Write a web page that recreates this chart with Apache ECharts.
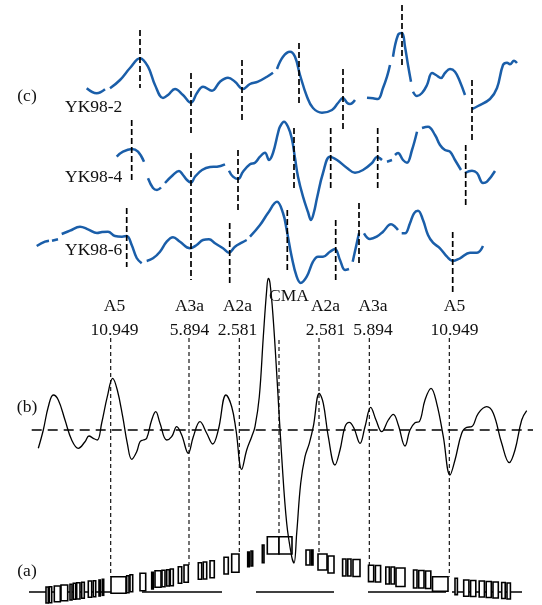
<!DOCTYPE html>
<html><head><meta charset="utf-8">
<script src="https://cdn.jsdelivr.net/npm/echarts@6/dist/echarts.min.js"></script>
<style>html,body{margin:0;padding:0;background:#fff}#c{width:542px;height:605px}</style>
</head><body><div id="c"></div>
<script>
// ---- distance along track (km) and anomaly values, one array of segments per profile ----
const YK98_2 = [
 [[86.7,1.7],[96.7,-3.3],[105,0.7]],
 [[110,1.7],[120,10],[130,22],[140,31.7],[148,23.3],[155,5],[163,-8],[168,-5],[175,1],[183,-5],[191,-12.7],[197,-3],[203,3.3],[212,-0.7],[220,8.3],[228,12.3],[235,8.3],[243,1],[250,6],[258,8.3],[267,13.3],[273,17.3]],
 [[277,21],[283,33.3],[290,38.3],[295,33.3],[300,15],[307,-6.7],[313,-18],[322,-22.7],[332,-20],[338,-13],[343,-8],[347,-12.7],[350,-14],[355,-10]],
 [[367,-7.7],[373,-8.3],[378,-9],[383,2],[387,13.3],[390,25]],
 [[393,33.3],[398,55],[402,57],[405,43.3],[408,25],[411,8.3]],
 [[413,-1.7],[417,-6],[422,-3],[427,5],[432,17],[436,15],[441,12],[445,17],[450,21],[455,18.3],[460,8.3],[465,-5]],
 [[472,-19],[478,-16],[490,-9],[497,2],[503,25],[507,27.3],[510,25.7],[514,29.3],[517,27]]
];
const YK98_4 = [
 [[116.7,13.3],[123,18.3],[131.7,21],[138,18.3],[144,8.3]],
 [[148,-8.3],[153,-18],[157,-20],[161,-17.5]],
 [[165,-13],[173,-5],[179,-1],[183,-5],[187,-10],[191,-12.7],[195,-6.7],[202,0],[210,3],[217,3.3],[225,5.7]],
 [[229,-0.7],[233,-6.7],[238,-9],[243,-1.7],[250,5.7],[255,7.3],[260,13.3],[265,17.3],[269,10],[273,17],[278,37],[280,43.3],[284,48.3],[288,43.3],[291.7,32],[295,12],[298,-6.7],[303,-26.7],[308,-42],[311,-50],[314,-42],[317,-28],[323,-3],[330,13.3],[337,10],[347,2],[355,-2.7],[363,0],[372,7],[377,13],[382,10]],
 [[387,8.3],[392,10]],
 [[395,15],[398,17],[403,10],[407,7.3],[412,20],[417,38.3]],
 [[422,42],[428,43.3],[435,35],[440,25],[445,20],[450,18.3],[455,10],[461,0]],
 [[465,-3],[472,-0.7],[477,-3],[483,-13],[487,-11.7],[495,-1]]
];
const YK98_6 = [
 [[36.7,-1],[45,3.3],[49,4.3]],
 [[52,4.3],[58,5.7]],
 [[61.7,11],[70,14.3],[80,18.3],[88,15.7],[97,12],[102,13],[108,13.3],[115,9],[122,8.3],[126.7,9],[131.7,0],[136.7,-13],[141.7,-18.3]],
 [[146.7,-16],[153,-13.3],[160,-6.7],[166.7,3.3],[173,7.7],[180,3.3],[190,-3.3],[196.7,0],[203,5],[209,5.7],[215,1.7],[223,-3.3],[229,-7.7],[235,-1.7],[241.7,2.3],[246.7,5]],
 [[250,8.3],[260,20],[268,32],[277,43.3],[283,32],[286.7,15],[291.7,-11.7],[296.7,-31.7],[300.7,-38],[306.7,-31.7],[313,-16.7],[318,-11.7],[323,-11.7],[330,-6.7],[335,-4],[340,-15],[345,-25],[349,-24]],
 [[352.7,-16.7],[356,-1.7],[359,11.7]],
 [[364,11.7],[370,6],[376.7,8.3],[383,13.3],[391,20.7],[395,18.3],[398,15]],
 [[401.7,11.7],[405,11.7],[410,21.7],[414,31.7],[418,34.3],[423,25],[428,10],[433,2.3],[440,-3.3],[447,-11.7],[452.7,-16],[460,-13.3],[470,-7.7],[477,-7.7],[483,-1]]
];
// (b) stacked / model profile
const STACK_B = [[38.3,-18.3],[43.3,0],[48.3,23.3],[53.3,35],[58.3,30],[65,10],[71.7,-10],[78.3,-18.3],[85,-11.7],[89,-6],[93.3,-8.3],[97.3,-10],[101.7,7],[107.3,33.3],[112.7,51.7],[117.3,40],[122.7,13.3],[127.3,-13.3],[131.7,-29.3],[136.7,-21.7],[140,-11.7],[143.3,-10],[146.7,-8.3],[151.7,10],[155.7,18.3],[160,6.7],[166.7,-10],[171.7,-6.7],[176.7,3.3],[181.7,-5],[188.3,-23.3],[193.3,-6.7],[200,8.3],[206.7,-3.3],[212.7,-14],[218.3,0],[226,35],[231.7,23.3],[236,0],[241.7,-39.3],[246.7,-20],[251.7,-6.7],[255,3.3],[259.3,33.3],[263.3,93.3],[266.7,140],[268.3,151.7],[270,147],[273.3,110],[277.3,46.7],[281.7,-26.7],[286.7,-93.3],[291.7,-126.7],[294,-133],[296.7,-103.3],[300.7,-53.3],[305,-26.7],[309.3,-13.3],[313.3,3.3],[319.3,36.7],[323.3,26.7],[328.3,-6.7],[335,-35],[340,-20],[345,3.3],[349.3,7.7],[354,1.7],[360,-13.3],[365,3.3],[370.7,22.7],[376,10],[381.7,-1.7],[388.3,10],[393.3,15.7],[398.3,5],[405,-16],[410,0],[415,7.3],[419.3,8.3],[425,30],[431,41.7],[436.7,26.7],[443.3,-6.7],[450,-45],[455,-30],[461.7,-3.3],[466.7,2.7],[471.7,3.3],[478.3,16.7],[486.7,23.3],[493.3,16.7],[501.7,-13.3],[509.3,-32.7],[515,-20],[521.7,10],[526.7,19.3]];
const STACK_ZERO = [[31.7,533,0]];
// correlation ticks per profile: [distance, top, bottom]
const YK2_CORR = [[140,60,2],[191,17,-45],[242,30,-30],[299,47,-13],[343,21,-40],[402,85,23],[472,10,-50]];
const YK4_CORR = [[131.7,50,-10],[191,17,-43],[238,20,-40],[294,42,-18],[330.7,42,-18],[377.7,42,-18],[465.7,25,-35]];
const YK6_CORR = [[126.7,37,-22],[191,29,-35],[229.7,22,-40],[287.3,35,-25],[335.7,25,-35],[359,42,-18],[452.7,13,-47]];
// chrons
const CHRON_NAMES = ['A5','A3a','A2a','CMA','A2a','A3a','A5'];
const CHRON_AGES = ['10.949','5.894','2.581','','2.581','5.894','10.949'];
const CHRON_X = [110.7,189,239.3,279,319,369.3,449.3];
const CHRON_LABEL_X = [114.5,189.5,237.5,289,325.5,373,454.5];
const CHRON_TOP = [92,92,92,90,92,92,92];
const CHRON_BOTTOM = [15.3,27,38,38,38,26.7,15.3];
// (a) block model: [start, end, top, bottom]
const BLOCKS = [
 [46,48.3,5,-11],[49.3,51.7,5.3,-10.7],[54.3,60.3,6,-9.7],[61,67.7,7,-8.7],[70,72,7.7,-8],[73.3,75.7,8.7,-7.3],[76.7,80,9.3,-7],[81.7,84.3,9.7,-6.3],[88.3,91.7,11,-5.3],[93.3,95.7,11.3,-4.7],[99,100.3,12,-4],[102.3,103.7,12.7,-3.3],
 [111,126,15.3,-1.3],[126.7,129,16.3,-0.7],[130,132.7,17.3,0.3],[140,145.7,18.7,1.3],[151.7,153.3,19.7,3],[155,161,21.3,4.7],[162,165,21.7,5.3],[166.7,169.3,22.3,6],[170.3,173.3,23,6.3],[178.3,181.7,25.3,8.7],[184,188.3,27,9.7],[198.3,201.7,29.3,12.7],[203.3,206.7,30,13],[210,214.3,31.3,14.3],[224,228.3,34.7,18],[231.7,239,38,19.7],[247.7,249.3,40,25.3],[251,252.7,41,26],[262.3,264,47,29.3],
 [267.3,279,55.3,38],[279,292,55.3,38],
 [306,310,42,27],[311.5,313,42,27],[318,327,38,22],[328,334,36,19],[342.6,346,33,16],[347.8,351,33,16],[353,360,32.5,15.5],[368.5,373.7,26.7,10.4],[375.4,380.6,26.5,10],[385.8,389.3,25,8],[391,394.5,25,8],[396,405,24,5.5],[413.5,417,22,4],[418.7,424,21.5,4],[425.6,430.8,21,3.5],[432.5,448,15.3,0.7],
 [455,457.4,13.7,-2.6],[463.7,468.9,12,-4.2],[470.6,475.8,11.5,-4.5],[479.2,484.4,11,-5],[486.2,491.3,10.5,-5.5],[493,498.3,10,-6],[501.7,505.2,9.5,-6.5],[507,510.4,9,-7]
];
const BASE_SEGMENTS = [[29,111,0],[142,222,0],[256,334,0],[368,446,0],[452,522,0]];
const PROFILE_NAMES = ['YK98-2','YK98-4','YK98-6'];
const PANEL_NAMES = ['(c)','(b)','(a)'];

// ---- layout (vertical offsets of each panel/profile on the shared axis) ----
const OFF = {yk2:-90, yk4:-170, yk6:-245, b:-430, a:-592};
const BLUE = '#1a5ea9';
const FONT = '17.5px "Liberation Serif", "DejaVu Serif", serif';

function lineSegs(segs, off, color, width, z) {
  return segs.map(seg => ({
    type:'line', data: seg.map(p => [p[0], p[1] + off]), smooth:0.4, symbol:'none',
    lineStyle:{color, width}, silent:true, z, clip:false, animation:false
  }));
}
function vSegs(items, off1, off2, color, width, dash, z) {
  return {
    type:'custom', silent:true, z, clip:false,
    data: items.map(t => [t[0], t[1] + off1, t[2] + off2]),
    renderItem(params, api) {
      const p1 = api.coord([api.value(0), api.value(1)]);
      const p2 = api.coord([api.value(0), api.value(2)]);
      return {type:'line', shape:{x1:p1[0], y1:p1[1], x2:p2[0], y2:p2[1]},
        style:{stroke:color, lineWidth:width, lineDash:dash, fill:null}};
    }
  };
}
function hSegs(items, off, color, width, dash, z) {
  return {
    type:'custom', silent:true, z, clip:false,
    data: items.map(t => [t[0], t[2] + off, t[1]]),
    renderItem(params, api) {
      const p1 = api.coord([api.value(0), api.value(1)]);
      const p2 = api.coord([api.value(2), api.value(1)]);
      return {type:'line', shape:{x1:p1[0], y1:p1[1], x2:p2[0], y2:p2[1]},
        style:{stroke:color, lineWidth:width, lineDash:dash, fill:null}};
    }
  };
}
function texts(items, z) {
  return {
    type:'custom', silent:true, z, clip:false,
    data: items.map(t => [t.x, t.y]),
    renderItem(params, api) {
      const it = items[params.dataIndex];
      const p = api.coord([api.value(0), api.value(1)]);
      return {type:'text', x:p[0], y:p[1],
        style:{text:it.text, fill:'#111', font:FONT, align:it.align || 'center', verticalAlign:'middle'}};
    }
  };
}

const series = [];
series.push(...lineSegs(YK98_2, OFF.yk2, BLUE, 2.5, 4));
series.push(...lineSegs(YK98_4, OFF.yk4, BLUE, 2.5, 4));
series.push(...lineSegs(YK98_6, OFF.yk6, BLUE, 2.5, 4));
series.push(vSegs(YK2_CORR, OFF.yk2, OFF.yk2, '#000', 1.7, [6,3], 5));
series.push(vSegs(YK4_CORR, OFF.yk4, OFF.yk4, '#000', 1.7, [6,3], 5));
series.push(vSegs(YK6_CORR, OFF.yk6, OFF.yk6, '#000', 1.7, [6,3], 5));
// chron dashed lines from (b) down to (a)
series.push(vSegs(CHRON_X.map((x,i) => [x, CHRON_TOP[i], CHRON_BOTTOM[i]]), OFF.b, OFF.a, '#000', 1.1, [4,3], 2));
series.push(hSegs(STACK_ZERO, OFF.b, '#000', 1.7, [10,6], 2));
series.push(...lineSegs([STACK_B], OFF.b, '#000', 1.3, 6));
// block model
series.push({
  type:'custom', silent:true, z:3, clip:false,
  data: BLOCKS.map(b => [b[0], b[2] + OFF.a, b[1], b[3] + OFF.a]),
  renderItem(params, api) {
    const p1 = api.coord([api.value(0), api.value(1)]);
    const p2 = api.coord([api.value(2), api.value(3)]);
    return {type:'rect', shape:{x:p1[0], y:p1[1], width:p2[0]-p1[0], height:p2[1]-p1[1]},
      style:{fill:'#fff', stroke:'#000', lineWidth:1.6}};
  }
});
series.push(hSegs(BASE_SEGMENTS, OFF.a, '#000', 1.4, null, 2));
// labels
const labelItems = [];
CHRON_NAMES.forEach((n,i) => {
  if (n === 'CMA') labelItems.push({x:CHRON_LABEL_X[i], y:OFF.b + 133.3, text:n});
  else labelItems.push({x:CHRON_LABEL_X[i], y:OFF.b + 123.3, text:n});
  if (CHRON_AGES[i]) labelItems.push({x:CHRON_LABEL_X[i], y:OFF.b + 100, text:CHRON_AGES[i]});
});
labelItems.push({x:65, y:OFF.yk2 - 17, text:PROFILE_NAMES[0], align:'left'});
labelItems.push({x:65, y:OFF.yk4 - 7, text:PROFILE_NAMES[1], align:'left'});
labelItems.push({x:65, y:OFF.yk6 - 5, text:PROFILE_NAMES[2], align:'left'});
labelItems.push({x:27, y:-96, text:PANEL_NAMES[0]});
labelItems.push({x:27, y:-407, text:PANEL_NAMES[1]});
labelItems.push({x:27, y:-571, text:PANEL_NAMES[2]});
series.push(texts(labelItems, 8));

const chart = echarts.init(document.getElementById('c'));
chart.setOption({
  animation:false,
  backgroundColor:'#fff',
  grid:{left:0, right:0, top:0, bottom:0, containLabel:false},
  xAxis:{type:'value', min:0, max:542, show:false},
  yAxis:{type:'value', min:-605, max:0, show:false},
  series
});
</script></body></html>
